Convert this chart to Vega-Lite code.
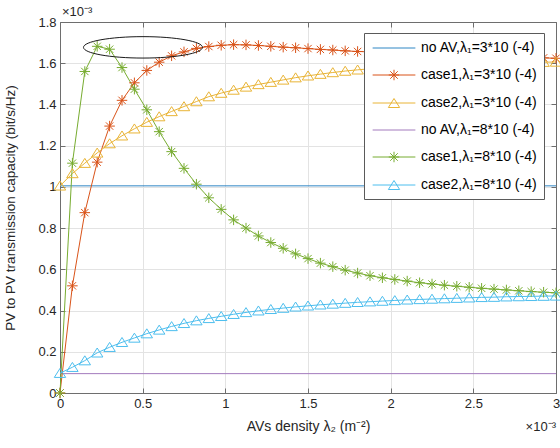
{
  "$schema": "https://vega.github.io/schema/vega-lite/v6.json",
  "width": 496,
  "height": 371,
  "autosize": "none",
  "padding": {"left": 60, "top": 22, "right": 4, "bottom": 55},
  "background": "white",
  "config": {"view": {"stroke": null}, "font": "Liberation Sans"},
  "datasets": {
    "curves": [
      {"x": 0, "y": 1.005, "series": "no AV,λ₁=3*10 (-4)"},
      {"x": 3, "y": 1.005, "series": "no AV,λ₁=3*10 (-4)"},
      {"x": 0, "y": 0.094, "series": "no AV,λ₁=8*10 (-4)"},
      {"x": 3, "y": 0.094, "series": "no AV,λ₁=8*10 (-4)"},
      {"x": 0, "y": 0, "series": "case1,λ₁=3*10 (-4)"},
      {"x": 0.075, "y": 0.52, "series": "case1,λ₁=3*10 (-4)"},
      {"x": 0.15, "y": 0.875, "series": "case1,λ₁=3*10 (-4)"},
      {"x": 0.225, "y": 1.12, "series": "case1,λ₁=3*10 (-4)"},
      {"x": 0.3, "y": 1.295, "series": "case1,λ₁=3*10 (-4)"},
      {"x": 0.375, "y": 1.42, "series": "case1,λ₁=3*10 (-4)"},
      {"x": 0.45, "y": 1.505, "series": "case1,λ₁=3*10 (-4)"},
      {"x": 0.525, "y": 1.565, "series": "case1,λ₁=3*10 (-4)"},
      {"x": 0.6, "y": 1.605, "series": "case1,λ₁=3*10 (-4)"},
      {"x": 0.675, "y": 1.636, "series": "case1,λ₁=3*10 (-4)"},
      {"x": 0.75, "y": 1.655, "series": "case1,λ₁=3*10 (-4)"},
      {"x": 0.825, "y": 1.672, "series": "case1,λ₁=3*10 (-4)"},
      {"x": 0.9, "y": 1.681, "series": "case1,λ₁=3*10 (-4)"},
      {"x": 0.975, "y": 1.687, "series": "case1,λ₁=3*10 (-4)"},
      {"x": 1.05, "y": 1.69, "series": "case1,λ₁=3*10 (-4)"},
      {"x": 1.125, "y": 1.689, "series": "case1,λ₁=3*10 (-4)"},
      {"x": 1.2, "y": 1.686, "series": "case1,λ₁=3*10 (-4)"},
      {"x": 1.275, "y": 1.682, "series": "case1,λ₁=3*10 (-4)"},
      {"x": 1.35, "y": 1.678, "series": "case1,λ₁=3*10 (-4)"},
      {"x": 1.425, "y": 1.675, "series": "case1,λ₁=3*10 (-4)"},
      {"x": 1.5, "y": 1.671, "series": "case1,λ₁=3*10 (-4)"},
      {"x": 1.575, "y": 1.667, "series": "case1,λ₁=3*10 (-4)"},
      {"x": 1.65, "y": 1.664, "series": "case1,λ₁=3*10 (-4)"},
      {"x": 1.725, "y": 1.66, "series": "case1,λ₁=3*10 (-4)"},
      {"x": 1.8, "y": 1.657, "series": "case1,λ₁=3*10 (-4)"},
      {"x": 1.875, "y": 1.655, "series": "case1,λ₁=3*10 (-4)"},
      {"x": 1.95, "y": 1.652, "series": "case1,λ₁=3*10 (-4)"},
      {"x": 2.025, "y": 1.65, "series": "case1,λ₁=3*10 (-4)"},
      {"x": 2.1, "y": 1.648, "series": "case1,λ₁=3*10 (-4)"},
      {"x": 2.175, "y": 1.646, "series": "case1,λ₁=3*10 (-4)"},
      {"x": 2.25, "y": 1.644, "series": "case1,λ₁=3*10 (-4)"},
      {"x": 2.325, "y": 1.642, "series": "case1,λ₁=3*10 (-4)"},
      {"x": 2.4, "y": 1.64, "series": "case1,λ₁=3*10 (-4)"},
      {"x": 2.475, "y": 1.638, "series": "case1,λ₁=3*10 (-4)"},
      {"x": 2.55, "y": 1.636, "series": "case1,λ₁=3*10 (-4)"},
      {"x": 2.625, "y": 1.634, "series": "case1,λ₁=3*10 (-4)"},
      {"x": 2.7, "y": 1.632, "series": "case1,λ₁=3*10 (-4)"},
      {"x": 2.775, "y": 1.63, "series": "case1,λ₁=3*10 (-4)"},
      {"x": 2.85, "y": 1.628, "series": "case1,λ₁=3*10 (-4)"},
      {"x": 2.925, "y": 1.626, "series": "case1,λ₁=3*10 (-4)"},
      {"x": 3, "y": 1.624, "series": "case1,λ₁=3*10 (-4)"},
      {"x": 0, "y": 1.005, "series": "case2,λ₁=3*10 (-4)"},
      {"x": 0.075, "y": 1.065, "series": "case2,λ₁=3*10 (-4)"},
      {"x": 0.15, "y": 1.115, "series": "case2,λ₁=3*10 (-4)"},
      {"x": 0.225, "y": 1.165, "series": "case2,λ₁=3*10 (-4)"},
      {"x": 0.3, "y": 1.21, "series": "case2,λ₁=3*10 (-4)"},
      {"x": 0.375, "y": 1.248, "series": "case2,λ₁=3*10 (-4)"},
      {"x": 0.45, "y": 1.282, "series": "case2,λ₁=3*10 (-4)"},
      {"x": 0.525, "y": 1.314, "series": "case2,λ₁=3*10 (-4)"},
      {"x": 0.6, "y": 1.341, "series": "case2,λ₁=3*10 (-4)"},
      {"x": 0.675, "y": 1.366, "series": "case2,λ₁=3*10 (-4)"},
      {"x": 0.75, "y": 1.39, "series": "case2,λ₁=3*10 (-4)"},
      {"x": 0.825, "y": 1.414, "series": "case2,λ₁=3*10 (-4)"},
      {"x": 0.9, "y": 1.438, "series": "case2,λ₁=3*10 (-4)"},
      {"x": 0.975, "y": 1.455, "series": "case2,λ₁=3*10 (-4)"},
      {"x": 1.05, "y": 1.47, "series": "case2,λ₁=3*10 (-4)"},
      {"x": 1.125, "y": 1.485, "series": "case2,λ₁=3*10 (-4)"},
      {"x": 1.2, "y": 1.497, "series": "case2,λ₁=3*10 (-4)"},
      {"x": 1.275, "y": 1.508, "series": "case2,λ₁=3*10 (-4)"},
      {"x": 1.35, "y": 1.519, "series": "case2,λ₁=3*10 (-4)"},
      {"x": 1.425, "y": 1.53, "series": "case2,λ₁=3*10 (-4)"},
      {"x": 1.5, "y": 1.539, "series": "case2,λ₁=3*10 (-4)"},
      {"x": 1.575, "y": 1.547, "series": "case2,λ₁=3*10 (-4)"},
      {"x": 1.65, "y": 1.555, "series": "case2,λ₁=3*10 (-4)"},
      {"x": 1.725, "y": 1.562, "series": "case2,λ₁=3*10 (-4)"},
      {"x": 1.8, "y": 1.568, "series": "case2,λ₁=3*10 (-4)"},
      {"x": 1.875, "y": 1.573, "series": "case2,λ₁=3*10 (-4)"},
      {"x": 1.95, "y": 1.577, "series": "case2,λ₁=3*10 (-4)"},
      {"x": 2.025, "y": 1.581, "series": "case2,λ₁=3*10 (-4)"},
      {"x": 2.1, "y": 1.584, "series": "case2,λ₁=3*10 (-4)"},
      {"x": 2.175, "y": 1.587, "series": "case2,λ₁=3*10 (-4)"},
      {"x": 2.25, "y": 1.59, "series": "case2,λ₁=3*10 (-4)"},
      {"x": 2.325, "y": 1.592, "series": "case2,λ₁=3*10 (-4)"},
      {"x": 2.4, "y": 1.594, "series": "case2,λ₁=3*10 (-4)"},
      {"x": 2.475, "y": 1.596, "series": "case2,λ₁=3*10 (-4)"},
      {"x": 2.55, "y": 1.598, "series": "case2,λ₁=3*10 (-4)"},
      {"x": 2.625, "y": 1.6, "series": "case2,λ₁=3*10 (-4)"},
      {"x": 2.7, "y": 1.602, "series": "case2,λ₁=3*10 (-4)"},
      {"x": 2.775, "y": 1.603, "series": "case2,λ₁=3*10 (-4)"},
      {"x": 2.85, "y": 1.604, "series": "case2,λ₁=3*10 (-4)"},
      {"x": 2.925, "y": 1.605, "series": "case2,λ₁=3*10 (-4)"},
      {"x": 3, "y": 1.606, "series": "case2,λ₁=3*10 (-4)"},
      {"x": 0, "y": 0, "series": "case1,λ₁=8*10 (-4)"},
      {"x": 0.075, "y": 1.115, "series": "case1,λ₁=8*10 (-4)"},
      {"x": 0.15, "y": 1.56, "series": "case1,λ₁=8*10 (-4)"},
      {"x": 0.225, "y": 1.682, "series": "case1,λ₁=8*10 (-4)"},
      {"x": 0.3, "y": 1.668, "series": "case1,λ₁=8*10 (-4)"},
      {"x": 0.375, "y": 1.579, "series": "case1,λ₁=8*10 (-4)"},
      {"x": 0.45, "y": 1.474, "series": "case1,λ₁=8*10 (-4)"},
      {"x": 0.525, "y": 1.374, "series": "case1,λ₁=8*10 (-4)"},
      {"x": 0.6, "y": 1.268, "series": "case1,λ₁=8*10 (-4)"},
      {"x": 0.675, "y": 1.171, "series": "case1,λ₁=8*10 (-4)"},
      {"x": 0.75, "y": 1.09, "series": "case1,λ₁=8*10 (-4)"},
      {"x": 0.825, "y": 1.013, "series": "case1,λ₁=8*10 (-4)"},
      {"x": 0.9, "y": 0.947, "series": "case1,λ₁=8*10 (-4)"},
      {"x": 0.975, "y": 0.891, "series": "case1,λ₁=8*10 (-4)"},
      {"x": 1.05, "y": 0.84, "series": "case1,λ₁=8*10 (-4)"},
      {"x": 1.125, "y": 0.8, "series": "case1,λ₁=8*10 (-4)"},
      {"x": 1.2, "y": 0.762, "series": "case1,λ₁=8*10 (-4)"},
      {"x": 1.275, "y": 0.73, "series": "case1,λ₁=8*10 (-4)"},
      {"x": 1.35, "y": 0.702, "series": "case1,λ₁=8*10 (-4)"},
      {"x": 1.425, "y": 0.675, "series": "case1,λ₁=8*10 (-4)"},
      {"x": 1.5, "y": 0.652, "series": "case1,λ₁=8*10 (-4)"},
      {"x": 1.575, "y": 0.63, "series": "case1,λ₁=8*10 (-4)"},
      {"x": 1.65, "y": 0.613, "series": "case1,λ₁=8*10 (-4)"},
      {"x": 1.725, "y": 0.596, "series": "case1,λ₁=8*10 (-4)"},
      {"x": 1.8, "y": 0.582, "series": "case1,λ₁=8*10 (-4)"},
      {"x": 1.875, "y": 0.569, "series": "case1,λ₁=8*10 (-4)"},
      {"x": 1.95, "y": 0.559, "series": "case1,λ₁=8*10 (-4)"},
      {"x": 2.025, "y": 0.551, "series": "case1,λ₁=8*10 (-4)"},
      {"x": 2.1, "y": 0.543, "series": "case1,λ₁=8*10 (-4)"},
      {"x": 2.175, "y": 0.535, "series": "case1,λ₁=8*10 (-4)"},
      {"x": 2.25, "y": 0.529, "series": "case1,λ₁=8*10 (-4)"},
      {"x": 2.325, "y": 0.523, "series": "case1,λ₁=8*10 (-4)"},
      {"x": 2.4, "y": 0.518, "series": "case1,λ₁=8*10 (-4)"},
      {"x": 2.475, "y": 0.513, "series": "case1,λ₁=8*10 (-4)"},
      {"x": 2.55, "y": 0.508, "series": "case1,λ₁=8*10 (-4)"},
      {"x": 2.625, "y": 0.504, "series": "case1,λ₁=8*10 (-4)"},
      {"x": 2.7, "y": 0.5, "series": "case1,λ₁=8*10 (-4)"},
      {"x": 2.775, "y": 0.496, "series": "case1,λ₁=8*10 (-4)"},
      {"x": 2.85, "y": 0.492, "series": "case1,λ₁=8*10 (-4)"},
      {"x": 2.925, "y": 0.489, "series": "case1,λ₁=8*10 (-4)"},
      {"x": 3, "y": 0.486, "series": "case1,λ₁=8*10 (-4)"},
      {"x": 0, "y": 0.096, "series": "case2,λ₁=8*10 (-4)"},
      {"x": 0.075, "y": 0.125, "series": "case2,λ₁=8*10 (-4)"},
      {"x": 0.15, "y": 0.157, "series": "case2,λ₁=8*10 (-4)"},
      {"x": 0.225, "y": 0.195, "series": "case2,λ₁=8*10 (-4)"},
      {"x": 0.3, "y": 0.222, "series": "case2,λ₁=8*10 (-4)"},
      {"x": 0.375, "y": 0.246, "series": "case2,λ₁=8*10 (-4)"},
      {"x": 0.45, "y": 0.267, "series": "case2,λ₁=8*10 (-4)"},
      {"x": 0.525, "y": 0.288, "series": "case2,λ₁=8*10 (-4)"},
      {"x": 0.6, "y": 0.306, "series": "case2,λ₁=8*10 (-4)"},
      {"x": 0.675, "y": 0.323, "series": "case2,λ₁=8*10 (-4)"},
      {"x": 0.75, "y": 0.338, "series": "case2,λ₁=8*10 (-4)"},
      {"x": 0.825, "y": 0.351, "series": "case2,λ₁=8*10 (-4)"},
      {"x": 0.9, "y": 0.362, "series": "case2,λ₁=8*10 (-4)"},
      {"x": 0.975, "y": 0.372, "series": "case2,λ₁=8*10 (-4)"},
      {"x": 1.05, "y": 0.382, "series": "case2,λ₁=8*10 (-4)"},
      {"x": 1.125, "y": 0.391, "series": "case2,λ₁=8*10 (-4)"},
      {"x": 1.2, "y": 0.399, "series": "case2,λ₁=8*10 (-4)"},
      {"x": 1.275, "y": 0.406, "series": "case2,λ₁=8*10 (-4)"},
      {"x": 1.35, "y": 0.412, "series": "case2,λ₁=8*10 (-4)"},
      {"x": 1.425, "y": 0.418, "series": "case2,λ₁=8*10 (-4)"},
      {"x": 1.5, "y": 0.423, "series": "case2,λ₁=8*10 (-4)"},
      {"x": 1.575, "y": 0.428, "series": "case2,λ₁=8*10 (-4)"},
      {"x": 1.65, "y": 0.432, "series": "case2,λ₁=8*10 (-4)"},
      {"x": 1.725, "y": 0.436, "series": "case2,λ₁=8*10 (-4)"},
      {"x": 1.8, "y": 0.44, "series": "case2,λ₁=8*10 (-4)"},
      {"x": 1.875, "y": 0.443, "series": "case2,λ₁=8*10 (-4)"},
      {"x": 1.95, "y": 0.446, "series": "case2,λ₁=8*10 (-4)"},
      {"x": 2.025, "y": 0.449, "series": "case2,λ₁=8*10 (-4)"},
      {"x": 2.1, "y": 0.452, "series": "case2,λ₁=8*10 (-4)"},
      {"x": 2.175, "y": 0.454, "series": "case2,λ₁=8*10 (-4)"},
      {"x": 2.25, "y": 0.456, "series": "case2,λ₁=8*10 (-4)"},
      {"x": 2.325, "y": 0.458, "series": "case2,λ₁=8*10 (-4)"},
      {"x": 2.4, "y": 0.46, "series": "case2,λ₁=8*10 (-4)"},
      {"x": 2.475, "y": 0.462, "series": "case2,λ₁=8*10 (-4)"},
      {"x": 2.55, "y": 0.464, "series": "case2,λ₁=8*10 (-4)"},
      {"x": 2.625, "y": 0.465, "series": "case2,λ₁=8*10 (-4)"},
      {"x": 2.7, "y": 0.467, "series": "case2,λ₁=8*10 (-4)"},
      {"x": 2.775, "y": 0.468, "series": "case2,λ₁=8*10 (-4)"},
      {"x": 2.85, "y": 0.469, "series": "case2,λ₁=8*10 (-4)"},
      {"x": 2.925, "y": 0.47, "series": "case2,λ₁=8*10 (-4)"},
      {"x": 3, "y": 0.471, "series": "case2,λ₁=8*10 (-4)"}
    ],
    "oval": [{"x": 0.502, "y": 1.677}]
  },
  "resolve": {"axis": {"x": "independent", "y": "independent"}},
  "layer": [
    {
      "data": {"name": "curves"},
      "mark": {"type": "line", "strokeWidth": 1},
      "encoding": {
        "x": {
          "field": "x", "type": "quantitative",
          "scale": {"domain": [0, 3], "nice": false, "zero": false},
          "axis": {
            "orient": "bottom", "values": [0, 0.5, 1, 1.5, 2, 2.5, 3], "format": "~g",
            "grid": true, "gridColor": "#e3e3e3", "domainColor": "#6e6e6e", "tickColor": "#6e6e6e",
            "tickSize": -5, "labelPadding": 9, "labelFontSize": 13, "labelColor": "#262626", "labelFlush": false,
            "title": "AVs density λ₂ (m⁻²)", "titleFontSize": 14, "titleFontWeight": "normal", "titleColor": "#262626",
            "titleY": 26
          }
        },
        "y": {
          "field": "y", "type": "quantitative",
          "scale": {"domain": [0, 1.8], "nice": false},
          "axis": {
            "orient": "left", "values": [0, 0.2, 0.4, 0.6, 0.8, 1, 1.2, 1.4, 1.6, 1.8], "format": "~g",
            "grid": true, "gridColor": "#e3e3e3", "domainColor": "#6e6e6e", "tickColor": "#6e6e6e",
            "tickSize": -5, "labelPadding": 9, "labelFontSize": 13, "labelColor": "#262626", "labelFlush": false,
            "title": "PV to PV transmission capacity (bit/s/Hz)", "titleFontSize": 13.5, "titleFontWeight": "normal", "titleColor": "#262626",
            "titleX": -43
          }
        },
        "color": {
          "field": "series", "type": "nominal",
          "scale": {
            "domain": ["no AV,λ₁=3*10 (-4)", "case1,λ₁=3*10 (-4)", "case2,λ₁=3*10 (-4)", "no AV,λ₁=8*10 (-4)", "case1,λ₁=8*10 (-4)", "case2,λ₁=8*10 (-4)"],
            "range": ["#2f86c4", "#D95319", "#E9B436", "#a37bbd", "#77AC30", "#4DBEEE"]
          },
          "legend": {
            "orient": "none", "legendX": 304, "legendY": 11, "title": null,
            "fillColor": "white", "strokeColor": "#5a5a5a", "padding": 7,
            "labelFont": "Liberation Sans", "labelFontSize": 14, "labelColor": "#000000", "labelLimit": 400,
            "symbolSize": 225, "symbolOffset": 15, "labelOffset": 19, "rowPadding": 12, "symbolStrokeWidth": 1,
            "encode": {
              "symbols": {
                "update": {
                  "shape": {"signal": "indexof(datum.value,'case1')==0 ? 'M-2.85,0H2.85M0,-0.7V0.7M-0.7,0H0.7M-0.5,-0.5L0.5,0.5M-0.5,0.5L0.5,-0.5' : (indexof(datum.value,'case2')==0 ? 'M-2.85,0H2.85M0,-0.6L0.75,0.6L-0.75,0.6Z' : 'M-2.85,0H2.85')"},
                  "fill": {"value": "transparent"},
                  "strokeWidth": {"value": 1}
                }
              }
            }
          }
        }
      }
    },
    {
      "data": {"name": "curves"},
      "transform": [{"filter": "indexof(datum.series,'case1')==0"}],
      "mark": {"type": "point", "filled": false, "strokeWidth": 1, "opacity": 1, "size": 110,
               "shape": "M-1,0H1M0,-1V1M-0.7,-0.7L0.7,0.7M-0.7,0.7L0.7,-0.7"},
      "encoding": {
        "x": {"field": "x", "type": "quantitative", "axis": null},
        "y": {"field": "y", "type": "quantitative", "axis": null},
        "color": {"field": "series", "type": "nominal"}
      }
    },
    {
      "data": {"name": "curves"},
      "transform": [{"filter": "indexof(datum.series,'case2')==0"}],
      "mark": {"type": "point", "filled": false, "strokeWidth": 1, "opacity": 1, "size": 144,
               "shape": "M0,-0.8L0.95,0.7L-0.95,0.7Z"},
      "encoding": {
        "x": {"field": "x", "type": "quantitative", "axis": null},
        "y": {"field": "y", "type": "quantitative", "axis": null},
        "color": {"field": "series", "type": "nominal"}
      }
    },
    {
      "data": {"name": "oval"},
      "mark": {"type": "point", "filled": false, "stroke": "#1a1a1a", "strokeWidth": 1, "opacity": 1, "size": 14161,
               "shape": "M-1,0A1,0.18,0,1,1,1,0A1,0.18,0,1,1,-1,0Z"},
      "encoding": {
        "x": {"field": "x", "type": "quantitative",
              "axis": {"orient": "top", "labels": false, "grid": false, "title": null, "values": [0, 0.5, 1, 1.5, 2, 2.5, 3], "tickSize": -5, "domainColor": "#6e6e6e", "tickColor": "#6e6e6e"}},
        "y": {"field": "y", "type": "quantitative",
              "axis": {"orient": "right", "labels": false, "grid": false, "title": null, "values": [0, 0.2, 0.4, 0.6, 0.8, 1, 1.2, 1.4, 1.6, 1.8], "tickSize": -5, "domainColor": "#6e6e6e", "tickColor": "#6e6e6e"}}
      }
    },
    {
      "data": {"values": [{"t": "×10⁻³"}]},
      "mark": {"type": "text", "align": "left", "baseline": "middle", "fontSize": 13, "color": "#262626", "dy": -10, "dx": 2},
      "encoding": {
        "x": {"datum": 0, "type": "quantitative", "axis": null},
        "y": {"datum": 1.8, "type": "quantitative", "axis": null},
        "text": {"field": "t"}
      }
    },
    {
      "data": {"values": [{"t": "×10⁻³"}]},
      "mark": {"type": "text", "align": "right", "baseline": "middle", "fontSize": 13, "color": "#262626", "dy": 34},
      "encoding": {
        "x": {"datum": 3, "type": "quantitative", "axis": null},
        "y": {"datum": 0, "type": "quantitative", "axis": null},
        "text": {"field": "t"}
      }
    }
  ]
}
